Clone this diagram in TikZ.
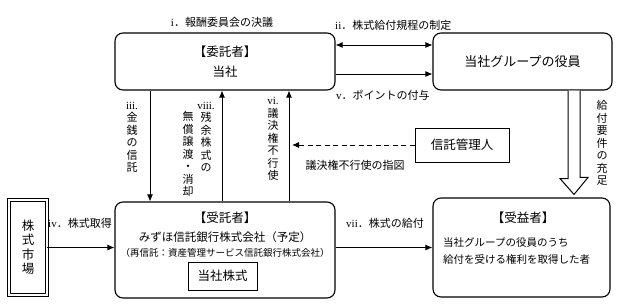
\documentclass[tikz,border=0pt]{standalone}
\usepackage{fontspec}
\setmainfont{Noto Sans CJK JP}
\newfontfamily\romfont{Liberation Serif}
\usetikzlibrary{arrows.meta,positioning,calc}
\newcommand{\rn}[1]{{\romfont #1}}

\begin{document}
\begin{tikzpicture}[
    x=1pt, y=-1pt,
    >={Latex[length=7pt,width=6pt]},
    font=\fontsize{11}{13}\selectfont,
    frame/.style={
        draw,
        line width=1.1pt,
        rounded corners=8pt,
        align=center
    },
    plain/.style={
        draw,
        line width=1pt,
        inner sep=0pt
    },
    market/.style={
        draw,
        line width=0.8pt,
        double,
        double distance=2pt,
        inner sep=0pt,
        align=center,
        minimum width=38pt,
        minimum height=95pt,
        font=\fontsize{12.5}{14.5}\selectfont
    },
    hollow/.style={draw, fill=white, line width=1pt, line join=miter},
    lbl/.style={inner sep=0pt},
    vlbl/.style={
        inner sep=0pt,
        align=center,
        font=\fontsize{11}{12.5}\selectfont
    },
    arr/.style={->, line width=0.9pt}
]
\useasboundingbox (0,0) rectangle (628,305);

% boxes
\node[frame, minimum width=220pt, minimum height=57pt,
      font=\fontsize{12.5}{20}\selectfont] (itaku) at (225,61.5)
{【委託者】\\当社};

\node[frame, minimum width=179pt, minimum height=57pt,
      font=\fontsize{13}{15}\selectfont] (yakuin) at (522.5,61.5)
{当社グループの役員};

\node[frame, minimum width=220pt, minimum height=96pt] (jutaku) at (225,250) {};
\node[lbl, font=\fontsize{12.5}{15}\selectfont] (jutakutitle) at (225,218) {【受託者】};
\node[lbl, font=\fontsize{11.5}{14}\selectfont] (jutakuname) at (225,237)
{みずほ信託銀行株式会社（予定）};
\node[lbl, font=\fontsize{9.5}{12}\selectfont] (saishintaku) at (225,253)
{（再信託：資産管理サービス信託銀行株式会社）};
\node[plain, minimum width=69pt, minimum height=28pt,
      font=\fontsize{12.5}{15}\selectfont] (kabu) at (222.5,276) {当社株式};

\node[frame, minimum width=177pt, minimum height=99pt] (jueki) at (521.5,247.5) {};
\node[lbl, font=\fontsize{12.5}{15}\selectfont] (juekititle) at (523,218) {【受益者】};
\node[lbl, anchor=west, align=left, font=\fontsize{10.5}{17}\selectfont] (juekibody) at (443,251.5)
{当社グループの役員のうち\\給付を受ける権利を取得した者};

\node[plain, minimum width=94pt, minimum height=34pt,
      font=\fontsize{12.5}{15}\selectfont] (kanri) at (462,145) {信託管理人};

\node[market] (shijo) at (28,247.5) {株\\式\\市\\場};

% arrows
\coordinate (vitop) at ([xshift=64pt]itaku.south);
\coordinate (juusoku) at ([xshift=51.5pt]yakuin.south);
\draw[arr, <->] ([yshift=16.5pt]itaku.east) -- ([yshift=16.5pt]yakuin.west);
\draw[arr] ([yshift=-12.5pt]itaku.east) -- ([yshift=-12.5pt]yakuin.west);
\draw[arr] ([xshift=-75pt]itaku.south) -- ([xshift=-75pt]jutaku.north);
\draw[arr] ([xshift=-3pt]jutaku.north) -- ([xshift=-3pt]itaku.south);
\draw[arr] ([xshift=64pt]jutaku.north) -- (vitop);
\draw[arr, dash pattern=on 5pt off 3.5pt, shorten >=3pt] (kanri.west) -- (kanri.west -| vitop);
\draw[arr] (shijo.east) -- (shijo.east -| jutaku.west);
\draw[arr] (jutaku.east |- jueki.west) -- (jueki.west);
\draw[hollow] ([xshift=-6pt]juusoku) -- ++(0,88) -- ++(-8,0)
    -- ($(juusoku |- jueki.north)+(0,-3)$) -- ++(14,-17) -- ++(-8,0)
    -- ([xshift=6pt]juusoku);

% labels
\node[lbl] (lbli) at (222,22) {\rn{i}．報酬委員会の決議};
\node[lbl, anchor=west] (lblii) at (335,25) {\rn{ii}．株式給付規程の制定};
\node[lbl, anchor=west] (lblv) at (336,95) {\rn{v}．ポイントの付与};
\node[lbl] (lblsashizu) at (355,165) {議決権不行使の指図};
\node[lbl] (lblvii) at (385,223) {\rn{vii}．株式の給付};
\node[lbl] (lbliv) at (80,223) {\rn{iv}．株式取得};

\node[vlbl] (lbliii) at (132,137) {\rn{iii.}\\金\\銭\\の\\信\\託};
\node[vlbl] (lblviiia) at (206,137) {\rn{viii.}\\残\\余\\株\\式\\の};
\node[vlbl] (lblviiib) at (188,154) {無\\償\\譲\\渡\\・\\消\\却};
\node[vlbl] (lblvi) at (273,139) {\rn{vi.}\\議\\決\\権\\不\\行\\使};
\node[vlbl] (lbljuusoku) at (602,143) {給\\付\\要\\件\\の\\充\\足};

\end{tikzpicture}
\end{document}
